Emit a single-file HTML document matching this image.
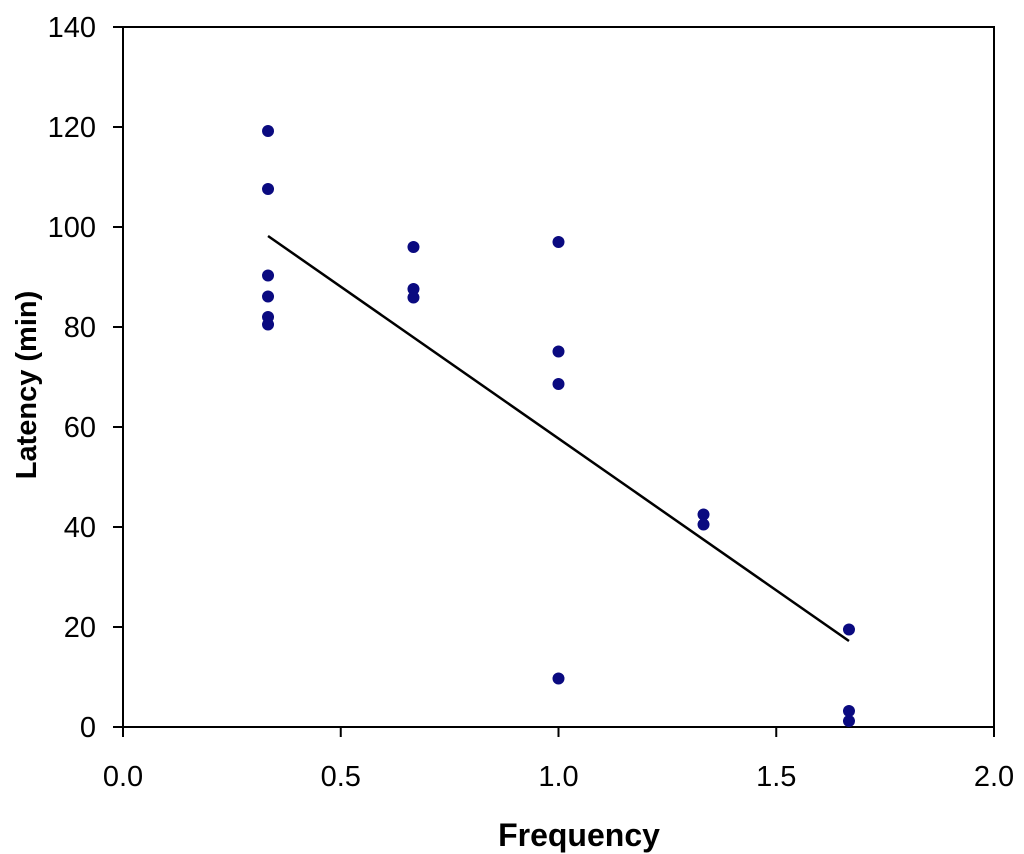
<!DOCTYPE html>
<html><head><meta charset="utf-8"><style>
html,body{margin:0;padding:0;background:#fff;}
svg{display:block;font-family:"Liberation Sans",Arial,sans-serif;}
</style></head><body>
<svg id="chart" width="1024" height="854"></svg>
<script>
const xTicks=["0.0","0.5","1.0","1.5","2.0"];
const yTicks=["0","20","40","60","80","100","120","140"];
const xVals=[0.333,0.333,0.333,0.333,0.333,0.333,0.667,0.667,0.667,1,1,1,1,1.333,1.333,1.667,1.667,1.667];
const yVals=[119.2,107.6,90.3,86.1,82.0,80.5,96.0,87.6,85.9,97.0,75.1,68.6,9.7,42.5,40.5,19.5,3.2,1.2];
const trendX=[0.333,1.667];
const trendY=[98.2,17.2];
const X0=123,X1=994,Y0=727,Y1=27,xmax=2,ymax=140;
const sx=v=>X0+v/xmax*(X1-X0), sy=v=>Y0-v/ymax*(Y0-Y1);
const svg=document.getElementById('chart');const NS='http://www.w3.org/2000/svg';
function mk(t,a,p){const e=document.createElementNS(NS,t);for(const k in a)e.setAttribute(k,a[k]);(p||svg).appendChild(e);return e;}
const frame=mk('rect',{x:X0,y:Y1,width:X1-X0,height:Y0-Y1,fill:'none',stroke:'#000','stroke-width':2});


xTicks.forEach(t=>{const x=sx(parseFloat(t));
 const l=mk('line',{x1:x,x2:x,y1:Y0,y2:Y0+10,stroke:'#000','stroke-width':2});
 
 
 const tx=mk('text',{x:x,y:Y0+59,'font-size':29,'text-anchor':'middle'});tx.textContent=t;
 
 });
yTicks.forEach(t=>{const y=sy(parseFloat(t));
 const l=mk('line',{x1:X0-10,x2:X0,y1:y,y2:y,stroke:'#000','stroke-width':2});
 
 
 const tx=mk('text',{x:96,y:y+10,'font-size':29,'text-anchor':'end'});tx.textContent=t;
 
 });
const tl=mk('line',{x1:sx(trendX[0]),y1:sy(trendY[0]),x2:sx(trendX[1]),y2:sy(trendY[1]),stroke:'#000','stroke-width':2.5});


xVals.forEach((v,i)=>{const c=mk('circle',{cx:sx(v),cy:sy(yVals[i]),r:6,fill:'#0a0a80'});
 
 });
const xt=mk('text',{x:579,y:846,'font-size':32,'font-weight':'bold','text-anchor':'middle'});xt.textContent='Frequency';


const yt=mk('text',{x:0,y:0,'font-size':29,'font-weight':'bold','text-anchor':'middle',transform:'translate(36,385) rotate(-90)'});yt.textContent='Latency (min)';


</script>
</body></html>
